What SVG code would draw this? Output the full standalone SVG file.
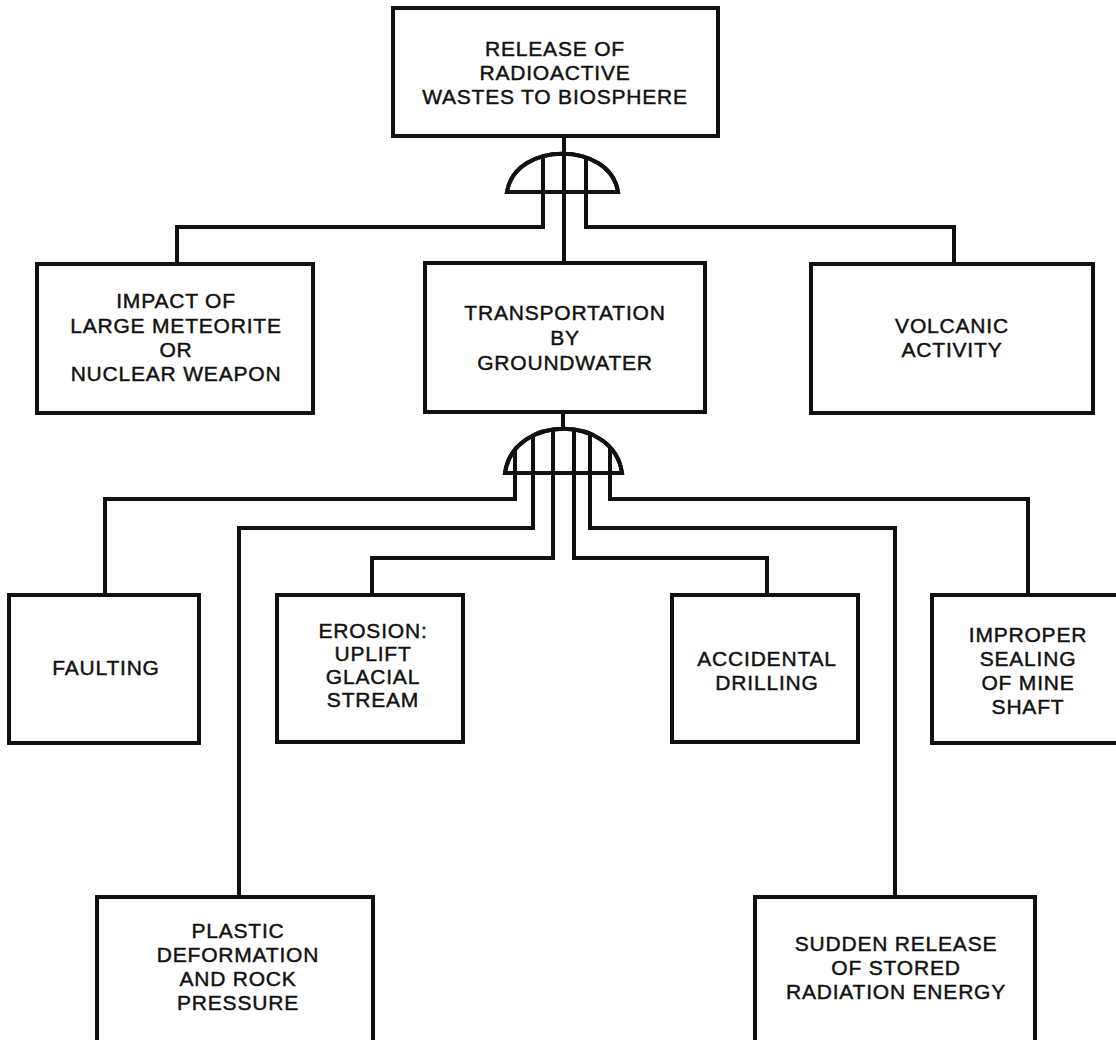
<svg xmlns="http://www.w3.org/2000/svg" width="1116" height="1040" viewBox="0 0 1116 1040">
<style>
.box{fill:#fff;stroke:#111;stroke-width:4}
.ln{fill:none;stroke:#111;stroke-width:4;stroke-linejoin:miter}
.gate{fill:#fff;stroke:#111;stroke-width:4;stroke-linejoin:miter}
.gateo{fill:none;stroke:#111;stroke-width:4;stroke-linejoin:miter}
text{font-family:"Liberation Sans",Arial,sans-serif;font-size:21px;fill:#111;stroke:#111;stroke-width:0.45px;text-anchor:middle;letter-spacing:0.8px}
</style>
<defs>
<clipPath id="c1"><path d="M507,192 C515,141 610,141 618,192 Z"/></clipPath>
<clipPath id="c2"><path d="M505,473 C513,414 614,414 622,473 Z"/></clipPath>
</defs>
<rect width="1116" height="1040" fill="#fff"/>
<g id="connectors">
<path class="ln" d="M564,136 V264"/>
<path class="ln" d="M543,192 V227 H177 V264"/>
<path class="ln" d="M586,192 V227 H954 V264"/>
<path class="ln" d="M563,412 V430"/>
<path class="ln" d="M515,473 V499 H105 V595"/>
<path class="ln" d="M533,473 V528 H239 V897"/>
<path class="ln" d="M553,473 V558 H372 V595"/>
<path class="ln" d="M574,473 V558 H767 V595"/>
<path class="ln" d="M590,473 V528 H895 V897"/>
<path class="ln" d="M610,473 V499 H1028 V595"/>
</g>
<g id="gate1">
<path class="gate" d="M507,192 C515,141 610,141 618,192 Z"/>
<g clip-path="url(#c1)"><path class="ln" d="M543,140 V192 M564,140 V192 M586,140 V192"/></g>
<path class="gateo" d="M507,192 C515,141 610,141 618,192 Z"/>
</g>
<g id="gate2">
<path class="gate" d="M505,473 C513,414 614,414 622,473 Z"/>
<g clip-path="url(#c2)"><path class="ln" d="M515,410 V473 M533,410 V473 M553,410 V473 M574,410 V473 M590,410 V473 M610,410 V473"/></g>
<path class="gateo" d="M505,473 C513,414 614,414 622,473 Z"/>
</g>
<g id="top">
<rect class="box" x="393" y="8" width="325" height="128"/>
<text x="555" y="55.5">RELEASE OF</text>
<text x="555" y="79.5">RADIOACTIVE</text>
<text x="555" y="103.5">WASTES TO BIOSPHERE</text>
</g>
<g id="impact">
<rect class="box" x="37" y="264" width="276" height="149"/>
<text x="176" y="307.5">IMPACT OF</text>
<text x="176" y="332.5">LARGE METEORITE</text>
<text x="176" y="356.5">OR</text>
<text x="176" y="380.5">NUCLEAR WEAPON</text>
</g>
<g id="transport">
<rect class="box" x="425" y="263" width="280" height="149"/>
<text x="565" y="319.5">TRANSPORTATION</text>
<text x="565" y="344.5">BY</text>
<text x="565" y="369.5">GROUNDWATER</text>
</g>
<g id="volcanic">
<rect class="box" x="811" y="264" width="282" height="149"/>
<text x="952" y="332.5">VOLCANIC</text>
<text x="952" y="356.5">ACTIVITY</text>
</g>
<g id="faulting">
<rect class="box" x="9" y="595" width="190" height="148"/>
<text x="106" y="674.5">FAULTING</text>
</g>
<g id="erosion">
<rect class="box" x="277" y="595" width="186" height="147"/>
<text x="373" y="637.5">EROSION:</text>
<text x="373" y="660.5">UPLIFT</text>
<text x="373" y="683.5">GLACIAL</text>
<text x="373" y="706.5">STREAM</text>
</g>
<g id="accidental">
<rect class="box" x="672" y="595" width="186" height="147"/>
<text x="767" y="665.5">ACCIDENTAL</text>
<text x="767" y="689.5">DRILLING</text>
</g>
<g id="improper">
<rect class="box" x="932" y="595" width="200" height="148"/>
<text x="1028" y="641.5">IMPROPER</text>
<text x="1028" y="665.5">SEALING</text>
<text x="1028" y="689.5">OF MINE</text>
<text x="1028" y="713.5">SHAFT</text>
</g>
<g id="plastic">
<rect class="box" x="97" y="897" width="276" height="160"/>
<text x="238" y="937.5">PLASTIC</text>
<text x="238" y="961.5">DEFORMATION</text>
<text x="238" y="985.5">AND ROCK</text>
<text x="238" y="1009.5">PRESSURE</text>
</g>
<g id="sudden">
<rect class="box" x="755" y="897" width="280" height="160"/>
<text x="896" y="950.5">SUDDEN RELEASE</text>
<text x="896" y="974.5">OF STORED</text>
<text x="896" y="998.5">RADIATION ENERGY</text>
</g>
</svg>
